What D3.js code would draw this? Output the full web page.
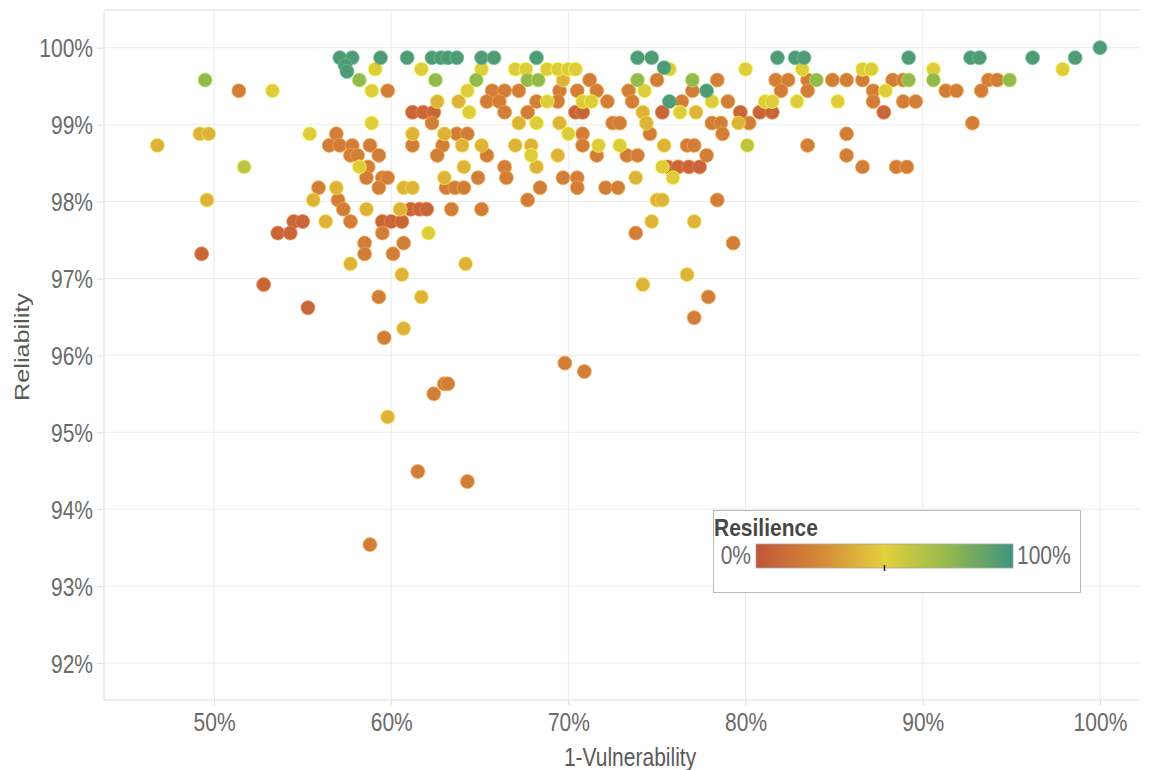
<!DOCTYPE html>
<html>
<head>
<meta charset="utf-8">
<script src="https://cdn.jsdelivr.net/npm/d3@7"></script>
<style>
    body { margin: 0; background: #fff; }
    svg text { font-family: "Liberation Sans", Arial, sans-serif; }
</style>
</head>
<body>
<svg id="chart" width="1150" height="770"></svg>
<script>
// Axis ticks
const xTicks = [50, 60, 70, 80, 90, 100];
const yTicks = [92, 93, 94, 95, 96, 97, 98, 99, 100];

const tealPoints = [
    [57.1, 99.87], [57.8, 99.87], [57.4, 99.77], [57.5, 99.69], [59.4, 99.87], [60.9, 99.87],
    [62.3, 99.87], [62.8, 99.87], [63.2, 99.87], [63.7, 99.87], [65.1, 99.87], [65.8, 99.87],
    [68.2, 99.87], [73.9, 99.87], [74.7, 99.87], [75.4, 99.74], [81.8, 99.87], [82.8, 99.87],
    [83.3, 99.87], [89.2, 99.87], [92.7, 99.87], [93.2, 99.87], [96.2, 99.87], [98.6, 99.87],
    [100, 100], [75.7, 99.30], [77.8, 99.44]
];
const greenPoints = [
    [49.5, 99.58], [58.2, 99.58], [62.5, 99.58], [64.8, 99.58], [67.7, 99.58], [68.3, 99.58],
    [73.9, 99.58], [77.0, 99.58], [84.0, 99.58], [89.2, 99.58], [90.6, 99.58], [94.9, 99.58]
];
const limePoints = [
    [51.7, 98.45], [80.1, 98.73]
];
const yellowPoints = [
    [59.1, 99.72], [61.7, 99.72], [65.1, 99.72], [67.0, 99.72], [67.6, 99.72], [68.8, 99.72],
    [69.4, 99.72], [70.0, 99.72], [70.4, 99.72], [75.7, 99.72], [80.0, 99.72], [83.2, 99.72],
    [86.6, 99.72], [87.1, 99.72], [90.6, 99.72], [97.9, 99.72],
    [53.3, 99.44], [58.9, 99.44], [64.3, 99.44], [87.9, 99.44], [74.3, 99.44],
    [68.8, 99.30], [70.8, 99.30], [71.3, 99.30], [78.1, 99.30], [81.1, 99.30], [81.5, 99.30],
    [82.9, 99.30], [85.2, 99.30],
    [64.4, 99.16], [76.3, 99.16], [58.9, 99.02], [68.2, 99.02], [55.4, 98.88], [70.0, 98.88],
    [71.7, 98.73], [72.9, 98.73], [67.9, 98.60], [58.2, 98.45], [75.3, 98.45], [75.9, 98.31],
    [62.1, 97.59]
];
const goldPoints = [
    [69.7, 99.58], [62.6, 99.30], [63.8, 99.30], [77.2, 99.16], [74.2, 99.16],
    [67.2, 99.02], [69.5, 99.02], [74.4, 99.02], [79.6, 99.02],
    [49.2, 98.88], [49.7, 98.88], [61.2, 98.88], [63.0, 98.88],
    [46.8, 98.73], [64.0, 98.73], [65.1, 98.73], [67.0, 98.73], [67.9, 98.73], [75.4, 98.73],
    [69.4, 98.60], [64.1, 98.45], [68.2, 98.45], [63.0, 98.31], [73.8, 98.31],
    [56.9, 98.18], [60.7, 98.18], [61.2, 98.18],
    [49.6, 98.02], [55.6, 98.02], [75.0, 98.02], [75.3, 98.02],
    [58.6, 97.90], [60.5, 97.90], [56.3, 97.74], [74.7, 97.74], [77.1, 97.74],
    [57.7, 97.19], [64.2, 97.19], [60.6, 97.05], [76.7, 97.05], [74.2, 96.92],
    [61.7, 96.76], [60.7, 96.35], [59.8, 95.20]
];
const orangePoints = [
    [71.2, 99.58], [75.0, 99.58], [78.4, 99.58], [81.7, 99.58], [82.4, 99.58], [83.5, 99.58],
    [84.9, 99.58], [85.7, 99.58], [86.6, 99.58], [88.3, 99.58], [88.9, 99.58], [93.7, 99.58],
    [94.2, 99.58],
    [51.4, 99.44], [59.8, 99.44], [65.7, 99.44], [66.4, 99.44], [67.2, 99.44], [69.5, 99.44],
    [70.5, 99.44], [71.6, 99.44], [73.4, 99.44], [77.0, 99.44], [82.0, 99.44], [83.5, 99.44],
    [87.2, 99.44], [91.3, 99.44], [91.9, 99.44], [93.3, 99.44],
    [65.4, 99.30], [66.1, 99.30], [68.2, 99.30], [69.4, 99.30], [72.2, 99.30], [73.6, 99.30],
    [76.4, 99.30], [79.0, 99.30], [87.2, 99.30], [88.9, 99.30], [89.6, 99.30],
    [66.4, 99.16], [67.7, 99.16],
    [62.3, 99.02], [72.5, 99.02], [72.9, 99.02], [78.1, 99.02], [78.6, 99.02], [80.2, 99.02],
    [92.8, 99.02],
    [56.9, 98.88], [63.7, 98.88], [64.3, 98.88], [70.8, 98.88], [74.6, 98.88], [78.7, 98.88],
    [85.7, 98.88],
    [56.5, 98.73], [57.1, 98.73], [57.8, 98.73], [58.8, 98.73], [61.2, 98.73], [62.9, 98.73],
    [70.8, 98.73], [76.7, 98.73], [77.1, 98.73], [83.5, 98.73],
    [57.7, 98.60], [58.1, 98.60], [59.3, 98.60], [62.6, 98.60], [65.4, 98.60], [71.6, 98.60],
    [73.3, 98.60], [73.9, 98.60], [77.8, 98.60], [85.7, 98.60],
    [58.7, 98.45], [66.4, 98.45], [86.6, 98.45], [88.5, 98.45], [89.1, 98.45],
    [58.6, 98.31], [59.5, 98.31], [59.8, 98.31], [64.9, 98.31], [66.5, 98.31], [69.7, 98.31],
    [70.5, 98.31],
    [55.9, 98.18], [59.3, 98.18], [63.1, 98.18], [63.6, 98.18], [64.1, 98.18], [68.4, 98.18],
    [70.5, 98.18], [72.1, 98.18], [72.8, 98.18],
    [57.0, 98.02], [67.7, 98.02], [78.4, 98.02],
    [57.3, 97.90], [63.4, 97.90], [65.1, 97.90],
    [57.7, 97.74], [59.5, 97.59], [73.8, 97.59],
    [58.5, 97.46], [60.7, 97.46], [79.3, 97.46], [58.5, 97.32], [60.1, 97.32],
    [59.3, 96.76], [77.9, 96.76], [77.1, 96.49], [59.6, 96.23],
    [69.8, 95.90], [70.9, 95.79], [63.0, 95.63], [63.2, 95.63], [62.4, 95.50],
    [61.5, 94.49], [64.3, 94.36], [58.8, 93.54]
];
const redPoints = [
    [61.2, 99.16], [61.8, 99.16], [62.4, 99.16], [70.4, 99.16], [70.8, 99.16], [75.3, 99.16],
    [79.7, 99.16], [80.8, 99.16], [81.5, 99.16], [87.8, 99.16],
    [75.6, 98.45], [76.2, 98.45], [76.8, 98.45], [77.4, 98.45],
    [61.1, 97.90], [61.6, 97.90], [62.0, 97.90],
    [59.5, 97.74], [60.0, 97.74], [60.6, 97.74], [54.5, 97.74], [55.0, 97.74],
    [53.6, 97.59], [54.3, 97.59], [49.3, 97.32], [52.8, 96.92], [55.3, 96.62]
];

// Resilience (%) of each group, in drawing order
const pointGroups = [redPoints, orangePoints, goldPoints, yellowPoints, limePoints, greenPoints, tealPoints];
const groupResilience = [8, 20, 40, 52, 62, 75, 95];

// Legend
const legendTitle = "Resilience";
const legendStops = [0, 25, 50, 75, 100];
const legendColors = ["#c1553a", "#d58a38", "#e3cf3c", "#94b94c", "#3f9480"];

class ScatterChart {
    constructor(svgSelector) {
        this.svg = d3.select(svgSelector);

        // Settings
        this.left = 104;
        this.right = 1140;
        this.top = 10;
        this.bottom = 700;
        this.dotRadius = 7;
        this.textStretch = 1.2;
        this.gridColor = "#ebebeb";
        this.labelColor = "#6a6a6a";

        this.x = d3.scaleLinear().domain([43.79, 102.26]).range([this.left, this.right]);
        this.y = d3.scaleLinear().domain([91.52, 100.49]).range([this.bottom, this.top]);
        this.color = d3.scaleLinear().domain(legendStops).range(legendColors);
    }

    draw() {
        this.drawGrid();
        this.drawAxes();
        this.drawPoints();
        this.drawLegend();
    }

    drawGrid() {
        let grid = this.svg.append("g").attr("class", "grid");
        let chart = this;

        grid.selectAll("line.v")
            .data(xTicks)
            .join("line")
            .attr("class", "v")
            .attr("x1", function (d) { return chart.x(d); })
            .attr("x2", function (d) { return chart.x(d); })
            .attr("y1", this.top)
            .attr("y2", this.bottom)
            .style("stroke", this.gridColor);

        grid.selectAll("line.h")
            .data(yTicks)
            .join("line")
            .attr("class", "h")
            .attr("x1", this.left)
            .attr("x2", this.right)
            .attr("y1", function (d) { return chart.y(d); })
            .attr("y2", function (d) { return chart.y(d); })
            .style("stroke", this.gridColor);

        // frame lines
        let frame = [
            [this.left, this.top, this.left, this.bottom],
            [this.left, this.bottom, this.right, this.bottom],
            [this.left, this.top, this.right, this.top]
        ];
        grid.selectAll("line.frame")
            .data(frame)
            .join("line")
            .attr("class", "frame")
            .attr("x1", function (d) { return d[0]; })
            .attr("y1", function (d) { return d[1]; })
            .attr("x2", function (d) { return d[2]; })
            .attr("y2", function (d) { return d[3]; })
            .style("stroke", "#dcdcdc");
    }

    drawAxes() {
        let stretch = this.textStretch;

        // add y axis
        let yAxis = d3.axisLeft(this.y)
            .tickValues(yTicks)
            .tickSize(7)
            .tickPadding(4)
            .tickFormat(function (d) { return d + "%"; });
        let yG = this.svg.append("g")
            .attr("transform", "translate(" + this.left + ",0)")
            .call(yAxis);
        yG.select(".domain").remove();
        yG.selectAll(".tick line").style("stroke", "#dcdcdc");
        yG.selectAll(".tick text")
            .attr("x", -11)
            .attr("dy", "0.36em")
            .attr("transform", "scale(1," + stretch + ")")
            .style("font-size", "21px")
            .style("font-family", "'Liberation Sans', Arial, sans-serif")
            .style("fill", this.labelColor);

        // add x axis
        let xAxis = d3.axisBottom(this.x)
            .tickValues(xTicks)
            .tickSize(5)
            .tickFormat(function (d) { return d + "%"; });
        let xG = this.svg.append("g")
            .attr("transform", "translate(0," + this.bottom + ")")
            .call(xAxis);
        xG.select(".domain").remove();
        xG.selectAll(".tick line").style("stroke", "#dcdcdc");
        xG.selectAll(".tick text")
            .attr("y", 26)
            .attr("dy", 0)
            .attr("transform", "scale(1," + stretch + ")")
            .style("font-size", "21px")
            .style("font-family", "'Liberation Sans', Arial, sans-serif")
            .style("fill", this.labelColor);

        // axis titles
        this.svg.append("text")
            .attr("transform", "translate(630,766) scale(1," + stretch + ")")
            .attr("text-anchor", "middle")
            .style("font-size", "21px")
            .style("fill", "#5a5a5a")
            .text("1-Vulnerability");

        this.svg.append("text")
            .attr("transform", "translate(29,347) scale(1," + stretch + ") rotate(-90)")
            .attr("text-anchor", "middle")
            .style("font-size", "21px")
            .style("fill", "#5a5a5a")
            .text("Reliability");
    }

    drawPoints() {
        let chart = this;
        let points = [];
        pointGroups.forEach(function (group, i) {
            group.forEach(function (p) {
                points.push({ vuln: p[0], rel: p[1], res: groupResilience[i] });
            });
        });

        this.svg.append("g")
            .attr("class", "points")
            .selectAll("circle")
            .data(points)
            .join("circle")
            .attr("cx", function (d) { return chart.x(d.vuln); })
            .attr("cy", function (d) { return chart.y(d.rel); })
            .attr("r", this.dotRadius)
            .style("fill", function (d) { return chart.color(d.res); })
            .style("stroke", function (d) { return d3.color(chart.color(d.res)).brighter(0.7); })
            .style("stroke-width", 1)
            .style("stroke-opacity", 0.7);
    }

    drawLegend() {
        let stretch = this.textStretch;
        let legendScale = d3.scaleLinear().domain([0, 100]).range([756, 1013]);
        let chart = this;

        let gradient = this.svg.append("defs")
            .append("linearGradient")
            .attr("id", "resilience-gradient");
        gradient.selectAll("stop")
            .data(legendStops)
            .join("stop")
            .attr("offset", function (d) { return d + "%"; })
            .attr("stop-color", function (d) { return chart.color(d); });

        let legend = this.svg.append("g").attr("class", "legend");
        legend.append("rect")
            .attr("x", 713.5)
            .attr("y", 510.5)
            .attr("width", 367)
            .attr("height", 82)
            .style("fill", "#fff")
            .style("stroke", "#b9b9b9");

        legend.append("text")
            .attr("transform", "translate(714,536) scale(1," + (stretch * 0.92) + ")")
            .style("font-size", "21px")
            .style("font-weight", "bold")
            .style("fill", "#474747")
            .text(legendTitle);

        legend.append("rect")
            .attr("x", legendScale(0))
            .attr("y", 544)
            .attr("width", legendScale(100) - legendScale(0))
            .attr("height", 24)
            .style("fill", "url(#resilience-gradient)")
            .style("stroke", "#a8a8a8")
            .style("stroke-width", 0.8);

        legend.append("line")
            .attr("x1", legendScale(50))
            .attr("x2", legendScale(50))
            .attr("y1", 565)
            .attr("y2", 571)
            .style("stroke", "#222")
            .style("stroke-width", 1.5);

        legend.append("text")
            .attr("transform", "translate(751,564) scale(1," + stretch + ")")
            .attr("text-anchor", "end")
            .style("font-size", "21px")
            .style("fill", this.labelColor)
            .text(legendStops[0] + "%");

        legend.append("text")
            .attr("transform", "translate(1017,564) scale(1," + stretch + ")")
            .style("font-size", "21px")
            .style("fill", this.labelColor)
            .text(legendStops[legendStops.length - 1] + "%");
    }
}

let chart = new ScatterChart("#chart");
chart.draw();
</script>
</body>
</html>
